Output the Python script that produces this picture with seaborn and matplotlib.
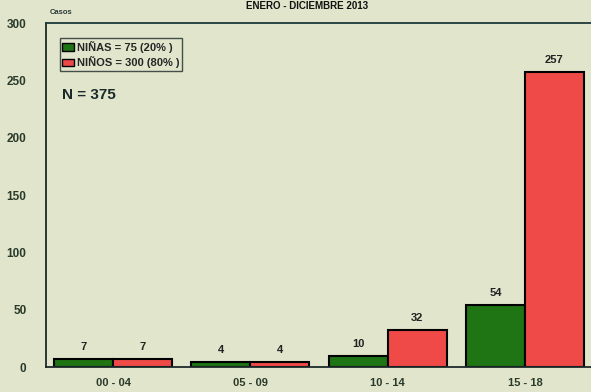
import pandas as pd
import matplotlib
matplotlib.use("Agg")
import matplotlib.pyplot as plt
import seaborn as sns
from matplotlib.patches import Patch

# data
grupos = ["00 - 04", "05 - 09", "10 - 14", "15 - 18"]
ninas = [7, 4, 10, 54]
ninos = [7, 4, 32, 257]
leyenda = ["NIÑAS = 75 (20% )", "NIÑOS = 300 (80% )"]

df = pd.DataFrame({
    "edad": grupos * 2,
    "casos": ninas + ninos,
    "sexo": ["NIÑAS"] * len(grupos) + ["NIÑOS"] * len(grupos),
})

bg = "#e1e5cb"
verde = "#1f7413"
rojo = "#ef4a48"

sns.set_style("white")
plt.rcParams["font.family"] = ["Liberation Sans", "DejaVu Sans"]

fig = plt.figure(figsize=(5.91, 3.92), dpi=100, facecolor=bg)
ax = fig.add_axes([46 / 591, 25 / 392, 1 - 46 / 591 + 0.002, (367 - 23) / 392])
ax.set_facecolor(bg)

sns.barplot(data=df, x="edad", y="casos", hue="sexo", ax=ax,
            palette={"NIÑAS": verde, "NIÑOS": rojo}, saturation=1,
            width=0.86, edgecolor="black", linewidth=1.5, legend=False)

for cont in ax.containers:
    ax.bar_label(cont, padding=5, fontsize=8, fontweight="bold", color="#222222")

ax.set_ylim(0, 300)
ax.set_xlim(-0.49, 3.49)
ax.set_yticks([0, 50, 100, 150, 200, 250, 300])
ax.set_xlabel("")
ax.set_ylabel("")
ax.tick_params(axis="both", direction="out", length=8, width=1, color="#333333",
               labelsize=8.5, labelcolor="#2a3a2a")
ax.tick_params(axis="y", pad=6)
ax.tick_params(axis="x", length=7, pad=1, labelsize=8)
for lab in ax.get_xticklabels() + ax.get_yticklabels():
    lab.set_fontweight("bold")

for side in ["left", "bottom", "top"]:
    ax.spines[side].set_visible(True)
    ax.spines[side].set_color("#1c2a2a")
    ax.spines[side].set_linewidth(1.3)
ax.spines["top"].set_color("#1e3a3a")
ax.spines["right"].set_visible(False)

handles = [Patch(facecolor=verde, edgecolor="black"), Patch(facecolor=rojo, edgecolor="black")]
leg = ax.legend(handles, leyenda, loc="upper left", bbox_to_anchor=(0.025, 0.955),
                frameon=True, fancybox=False, fontsize=8, handlelength=1.0,
                handleheight=0.7, handletextpad=0.3, borderpad=0.25,
                labelspacing=0.3, borderaxespad=0)
leg.get_frame().set_edgecolor("#1c2a2a")
leg.get_frame().set_facecolor(bg)
leg.get_frame().set_linewidth(1.0)
for t in leg.get_texts():
    t.set_fontweight("bold")

ax.text(0.03, 0.79, "N = 375", transform=ax.transAxes, fontsize=11,
        fontweight="bold", color="#1a2a2a", va="center")

fig.text(50 / 591, 1 - 13 / 392, "Casos", fontsize=5.5, fontweight="bold",
         color="#2a3a3a", va="center")
fig.text(0.52, 0.998, "ENERO - DICIEMBRE 2013", fontsize=7, fontweight="bold",
         ha="center", va="top", color="#111111")

fig.savefig("out.png", dpi=100, facecolor=bg)
